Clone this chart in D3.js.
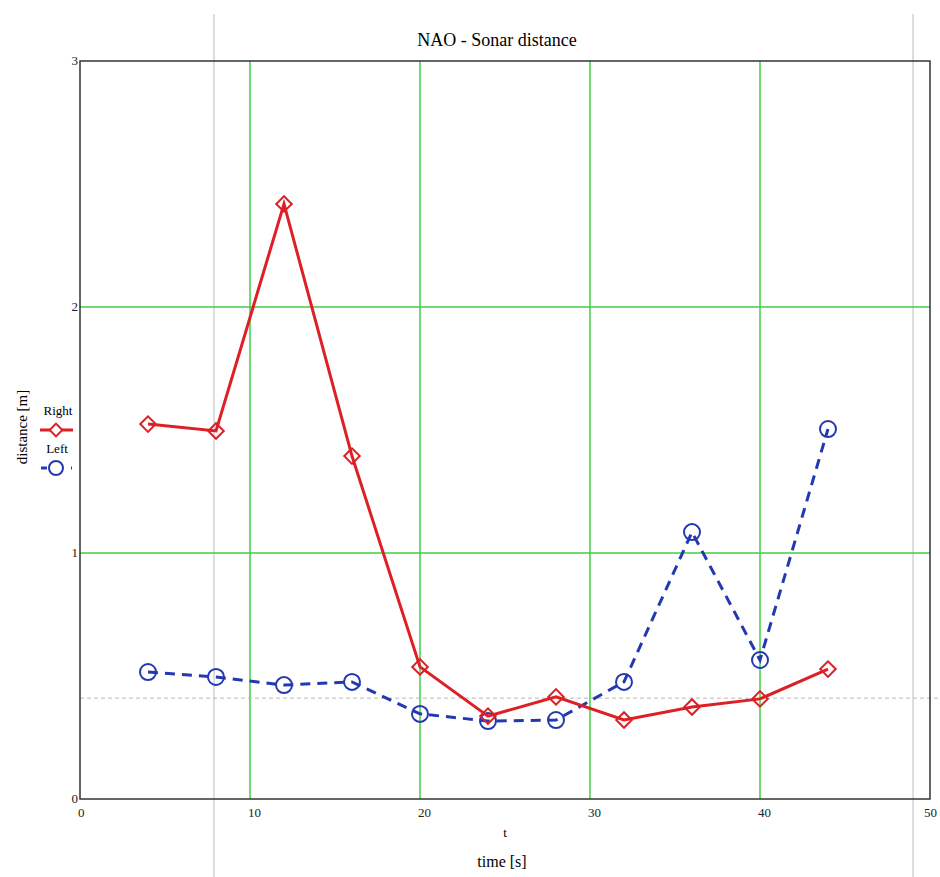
<!DOCTYPE html>
<html>
<head>
<meta charset="utf-8">
<script src="https://cdn.jsdelivr.net/npm/d3@7"></script>
<style>
  body { margin: 0; background: #fff; }
  svg { display: block; font-family: "Liberation Serif", "Times New Roman", serif; }
</style>
</head>
<body>
<svg id="chart" width="940" height="877"></svg>
<script>
const times = [4, 8, 12, 16, 20, 24, 28, 32, 36, 40, 44];
const rightValues = [1.524, 1.496, 2.419, 1.394, 0.537, 0.337, 0.415, 0.321, 0.374, 0.407, 0.528];
const leftValues = [0.516, 0.496, 0.463, 0.476, 0.346, 0.317, 0.321, 0.476, 1.085, 0.565, 1.504];
const xTicks = [0, 10, 20, 30, 40, 50];
const yTicks = [0, 1, 2, 3];
const xGrid = [10, 20, 30, 40];
const yGrid = [1, 2];
const refLevel = 0.41;

const width = 940;
const height = 877;
const margin = { top: 61, right: 10, bottom: 78, left: 80 };

const svg = d3.select("#chart");

const x = d3.scaleLinear().domain([0, 50]).range([margin.left, width - margin.right]);
const y = d3.scaleLinear().domain([0, 3]).range([height - margin.bottom, margin.top]);

// light gray vertical guides across the whole picture
svg.append("g")
  .selectAll("line")
  .data([214, 913])
  .join("line")
  .attr("x1", d => d).attr("x2", d => d)
  .attr("y1", 14).attr("y2", height)
  .attr("stroke", "#c8c8c8")
  .attr("stroke-width", 1.2);

// green grid
const grid = svg.append("g").attr("stroke", "#44cc44").attr("stroke-width", 1.5);
grid.selectAll(".gx")
  .data(xGrid)
  .join("line")
  .attr("x1", d => x(d)).attr("x2", d => x(d))
  .attr("y1", y(3)).attr("y2", y(0));
grid.selectAll(".gy")
  .data(yGrid)
  .join("line")
  .attr("x1", x(0)).attr("x2", x(50))
  .attr("y1", d => y(d)).attr("y2", d => y(d));

// dashed reference level
svg.append("line")
  .attr("x1", x(0)).attr("x2", width)
  .attr("y1", y(refLevel)).attr("y2", y(refLevel))
  .attr("stroke", "#b8b8b8")
  .attr("stroke-dasharray", "4,3");

// frame
svg.append("rect")
  .attr("x", x(0)).attr("y", y(3))
  .attr("width", x(50) - x(0)).attr("height", y(0) - y(3))
  .attr("fill", "none")
  .attr("stroke", "#333")
  .attr("stroke-width", 1.5);

// tick labels
svg.append("g")
  .selectAll("text")
  .data(xTicks)
  .join("text")
  .attr("x", d => Math.min(x(d) - 2, width - 16))
  .attr("y", y(0) + 18)
  .attr("font-size", 13)
  .attr("fill", "#222")
  .text(d => d);

svg.append("g")
  .selectAll("text")
  .data(yTicks)
  .join("text")
  .attr("x", x(0) - 2)
  .attr("y", d => y(d) + 4)
  .attr("text-anchor", "end")
  .attr("font-size", 13)
  .attr("fill", "#222")
  .text(d => d);

// titles
svg.append("text")
  .attr("x", 497).attr("y", 46)
  .attr("text-anchor", "middle")
  .attr("font-size", 18)
  .text("NAO - Sonar distance");

svg.append("text")
  .attr("x", 505).attr("y", 837)
  .attr("text-anchor", "middle")
  .attr("font-size", 13)
  .text("t");

svg.append("text")
  .attr("x", 502).attr("y", 867)
  .attr("text-anchor", "middle")
  .attr("font-size", 16)
  .text("time [s]");

svg.append("text")
  .attr("transform", "translate(27,427) rotate(-90)")
  .attr("text-anchor", "middle")
  .attr("font-size", 15)
  .text("distance [m]");

const line = d3.line().x(d => x(d[0])).y(d => y(d[1]));
const rightData = d3.zip(times, rightValues);
const leftData = d3.zip(times, leftValues);

const red = "#dd1f26";
const blue = "#2339b0";

const diamond = d3.symbol().type(d3.symbolSquare).size(120);

// left series (blue dashed, circles)
svg.append("path")
  .datum(leftData)
  .attr("fill", "none")
  .attr("stroke", blue)
  .attr("stroke-width", 3)
  .attr("stroke-dasharray", "10,7")
  .attr("d", line);

svg.append("g")
  .selectAll("circle")
  .data(leftData)
  .join("circle")
  .attr("cx", d => x(d[0]))
  .attr("cy", d => y(d[1]))
  .attr("r", 8)
  .attr("fill", "none")
  .attr("stroke", blue)
  .attr("stroke-width", 2);

// right series (red solid, diamonds)
svg.append("path")
  .datum(rightData)
  .attr("fill", "none")
  .attr("stroke", red)
  .attr("stroke-width", 3)
  .attr("d", line);

svg.append("g")
  .selectAll("path")
  .data(rightData)
  .join("path")
  .attr("transform", d => `translate(${x(d[0])},${y(d[1])}) rotate(45)`)
  .attr("d", diamond)
  .attr("fill", "none")
  .attr("stroke", red)
  .attr("stroke-width", 2);

// legend
const legend = svg.append("g");
legend.append("text").attr("x", 58).attr("y", 415).attr("text-anchor", "middle")
  .attr("font-size", 13).text("Right");
legend.append("line").attr("x1", 40).attr("x2", 73).attr("y1", 430).attr("y2", 430)
  .attr("stroke", red).attr("stroke-width", 3);
legend.append("path").attr("transform", "translate(56,430) rotate(45)")
  .attr("d", d3.symbol().type(d3.symbolSquare).size(80))
  .attr("fill", "#fff").attr("stroke", red).attr("stroke-width", 2);

legend.append("text").attr("x", 57).attr("y", 453).attr("text-anchor", "middle")
  .attr("font-size", 13).text("Left");
legend.append("line").attr("x1", 41).attr("x2", 72).attr("y1", 468).attr("y2", 468)
  .attr("stroke", blue).attr("stroke-width", 3).attr("stroke-dasharray", "6,9");
legend.append("circle").attr("cx", 56).attr("cy", 468).attr("r", 7)
  .attr("fill", "#fff").attr("stroke", blue).attr("stroke-width", 2);
</script>
</body>
</html>
